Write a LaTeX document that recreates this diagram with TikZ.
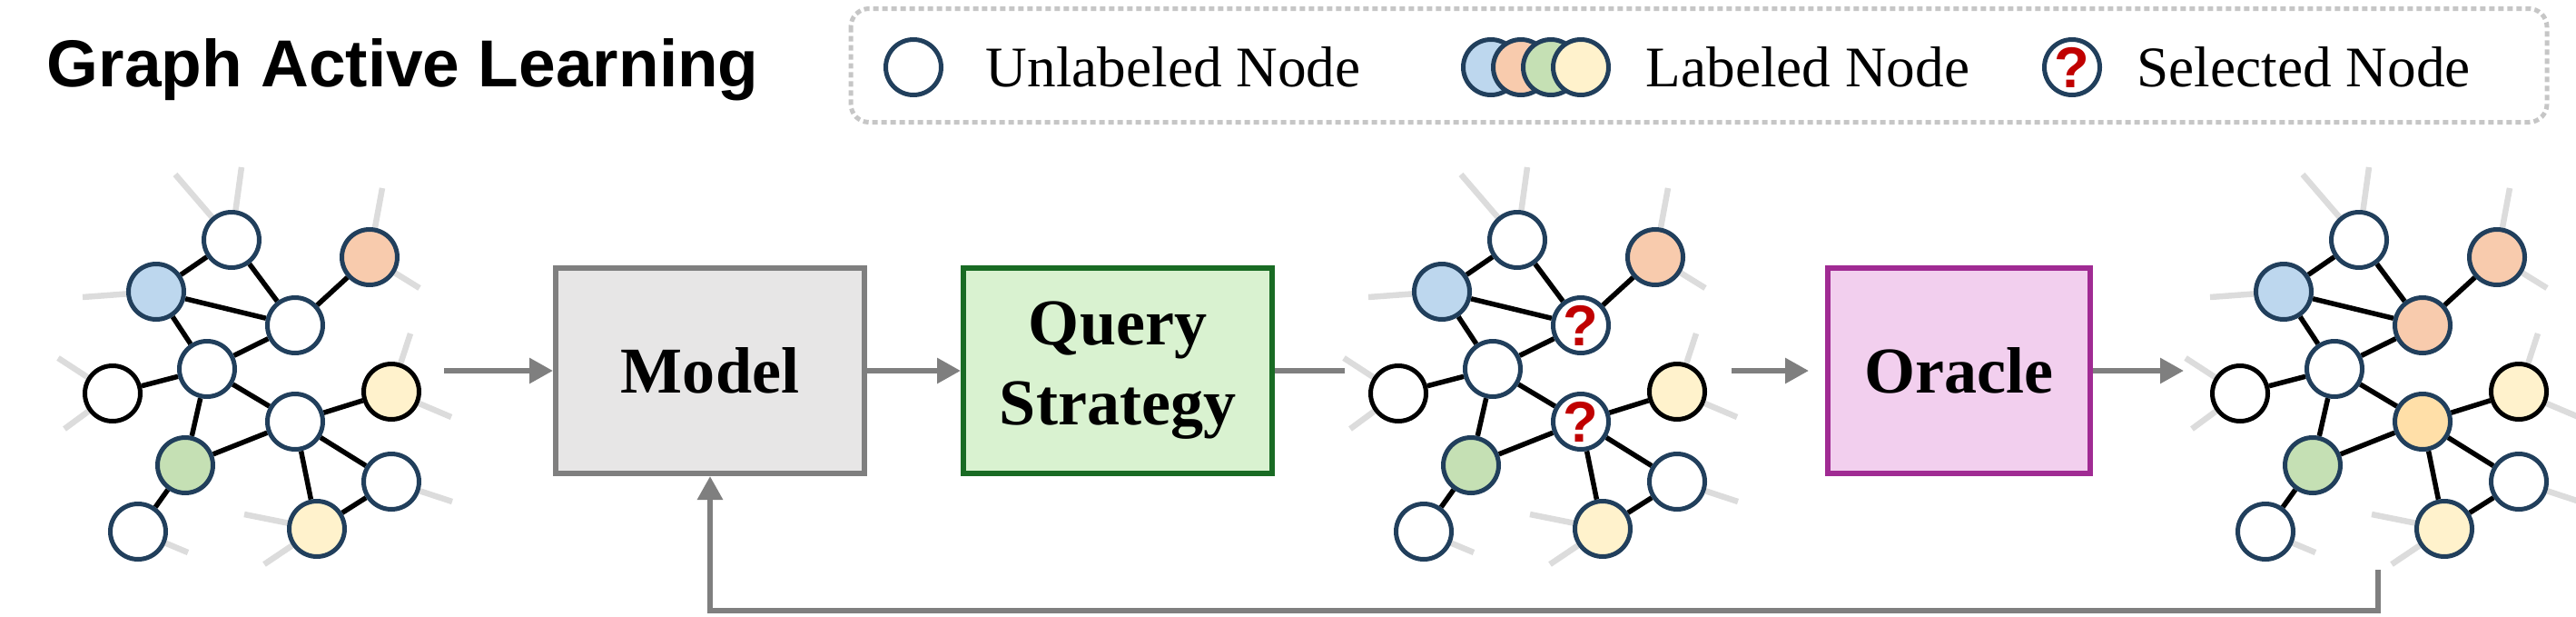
\documentclass[tikz,border=0pt]{standalone}
\usepackage{fontspec}
\setmainfont{Liberation Serif}
\newfontfamily\headfont{Liberation Sans}
\usetikzlibrary{positioning, arrows.meta, backgrounds}
\definecolor{nodeblue}{HTML}{213F5C}
\definecolor{bluefill}{HTML}{BDD7EE}
\definecolor{orangefill}{HTML}{F8CBAD}
\definecolor{greenfill}{HTML}{C5E0B4}
\definecolor{yellowfill}{HTML}{FFF2CC}
\definecolor{peachfill}{HTML}{FFDFA8}
\definecolor{leggray}{HTML}{DCDCDC}
\definecolor{flowgray}{HTML}{7F7F7F}
\definecolor{qred}{HTML}{C00000}
\definecolor{modelfill}{HTML}{E7E6E6}
\definecolor{queryfill}{HTML}{D9F2D0}
\definecolor{querydraw}{HTML}{196B24}
\definecolor{oraclefill}{HTML}{F2CFEE}
\definecolor{oracledraw}{HTML}{A02B93}

% one graph: prefix, x shift, style of d, style of h, mark
\newcommand{\graphnet}[5]{%
  \begin{scope}[xshift=#2cm]
    \node[gnode] (#1a) at (2.55,-2.64) {};
    \node[gnode, fill=bluefill] (#1b) at (1.72,-3.21) {};
    \node[gnode, fill=orangefill] (#1c) at (4.07,-2.83) {};
    \node[#3] (#1d) at (3.25,-3.58) {#5};
    \node[gnode] (#1e) at (2.28,-4.06) {};
    \node[gnode, draw=black] (#1f) at (1.24,-4.33) {};
    \node[gnode, draw=black, fill=yellowfill] (#1g) at (4.31,-4.31) {};
    \node[#4] (#1h) at (3.25,-4.64) {#5};
    \node[gnode, fill=greenfill] (#1i) at (2.04,-5.12) {};
    \node[gnode] (#1j) at (4.31,-5.30) {};
    \node[gnode] (#1k) at (1.52,-5.85) {};
    \node[gnode, fill=yellowfill] (#1l) at (3.49,-5.82) {};
    \begin{scope}[on background layer]
      \draw[leg] (#1a) -- ++(-0.62,0.72) (#1a) -- ++(0.11,0.80);
      \draw[leg] (#1b) -- ++(-0.81,-0.06);
      \draw[leg] (#1c) -- ++(0.14,0.76) (#1c) -- ++(0.55,-0.34);
      \draw[leg] (#1f) -- ++(-0.60,0.39) (#1f) -- ++(-0.53,-0.39);
      \draw[leg] (#1g) -- ++(0.21,0.64) (#1g) -- ++(0.66,-0.28);
      \draw[leg] (#1j) -- ++(0.67,-0.22);
      \draw[leg] (#1k) -- ++(0.55,-0.23);
      \draw[leg] (#1l) -- ++(-0.80,0.16) (#1l) -- ++(-0.58,-0.39);
      \draw[edge] (#1a) -- (#1b) (#1a) -- (#1d) (#1b) -- (#1d)
        (#1b) -- (#1e) (#1d) -- (#1c) (#1d) -- (#1e)
        (#1e) -- (#1f) (#1e) -- (#1h) (#1e) -- (#1i)
        (#1h) -- (#1g) (#1h) -- (#1i) (#1h) -- (#1j)
        (#1h) -- (#1l) (#1i) -- (#1k) (#1j) -- (#1l);
    \end{scope}
  \end{scope}
}

\begin{document}
\begin{tikzpicture}[gnode/.style={circle, 
      draw=nodeblue, 
      fill=white, 
      line width=0.05cm, 
      minimum size=0.61cm, 
      inner sep=0pt},
    qnode/.style={gnode, 
      text=qred, 
      font=\headfont\bfseries\fontsize{18}{18}\selectfont},
    edge/.style={line width=0.055cm, black},
    leg/.style={line width=0.065cm, leggray},
    legtext/.style={inner sep=0pt, 
      font=\fontsize{18}{20}\selectfont},
    stage/.style={rectangle, 
      line width=0.06cm, 
      minimum width=3.40cm, 
      minimum height=2.26cm, 
      align=center, 
      font=\bfseries\fontsize{20.5}{25}\selectfont},
    flow/.style={line width=0.06cm, 
      draw=flowgray, 
      -{Triangle[length=0.26cm, width=0.27cm]}}]
  \useasboundingbox (0,0) rectangle (28.37,-6.78);

  % TITLE AND LEGEND

  \node[anchor=base west, inner sep=0pt, 
    font=\headfont\bfseries\fontsize{20.8}{24}\selectfont] (title) 
    at (0.51,-0.95) {Graph Active Learning};

  \draw[line width=0.05cm, leggray!90!black, rounded corners=0.2cm, 
    dash pattern=on 0.06cm off 0.04cm] (9.37,-0.095) rectangle (28.05,-1.345);

  \node[gnode] (legu) at (10.06,-0.74) {};
  \node[legtext, right=0.46cm of legu] (legutext) {Unlabeled Node};

  \node[gnode, fill=bluefill] (legl1) at (16.42,-0.74) {};
  \node[gnode, fill=orangefill] (legl2) at (16.75,-0.74) {};
  \node[gnode, fill=greenfill] (legl3) at (17.08,-0.74) {};
  \node[gnode, fill=yellowfill] (legl4) at (17.41,-0.74) {};
  \node[legtext, right=0.38cm of legl4] (legltext) {Labeled Node};

  \node[qnode] (legs) at (22.82,-0.74) {?};
  \node[legtext, right=0.38cm of legs] (legstext) {Selected Node};

  % STAGES

  \node[stage, fill=modelfill, draw=flowgray] (model) at (7.82,-4.08) {Model};
  \node[stage, fill=queryfill, draw=querydraw, 
    right=1.03cm of model] (query) {Query\\Strategy};
  \node[stage, fill=oraclefill, draw=oracledraw, minimum width=2.89cm, 
    right=6.06cm of query] (oracle) {Oracle};

  % GRAPHS

  \graphnet{ga}{0}{gnode}{gnode}{}
  \graphnet{gb}{14.16}{qnode}{qnode}{?}
  \graphnet{gc}{23.43}{gnode, fill=orangefill}{gnode, fill=peachfill}{}

  % FLOW

  \coordinate (gaout) at (4.89,-4.08);
  \coordinate (gbin) at (14.81,-4.08);
  \coordinate (gbout) at (19.07,-4.08);
  \coordinate (gcin) at (24.05,-4.08);
  \coordinate (gcout) at (26.19,-6.27);

  \draw[flow] (gaout) -- (model);
  \draw[flow] (model) -- (query);
  \draw[line width=0.06cm, flowgray] (query) -- (gbin);
  \draw[flow, shorten >=0.18cm] (gbout) -- (oracle);
  \draw[flow] (oracle) -- (gcin);
  \draw[flow] (gcout) -- ++(0,-0.45) -| (model.south);

\end{tikzpicture}
\end{document}
